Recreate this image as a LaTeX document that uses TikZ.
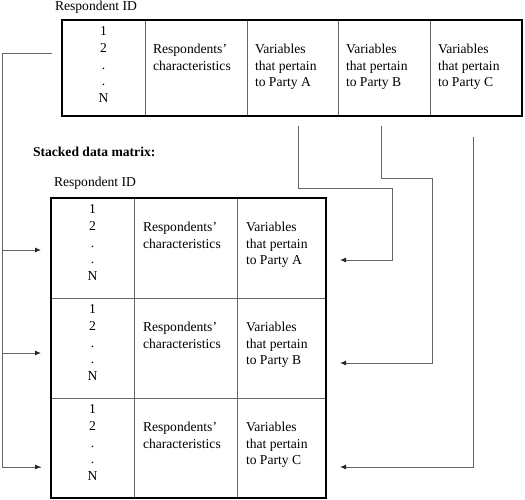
\documentclass[tikz,border=0pt]{standalone}
\usepackage{fontspec}
\setmainfont{Liberation Serif}
\usepackage{tikz}
\usetikzlibrary{positioning,arrows.meta,fit,calc}

\begin{document}
\begin{tikzpicture}[
    x=1pt,y=-1pt,
    every node/.style={font=\fontsize{13.6}{16.6}\selectfont,inner sep=0pt,outer sep=0pt},
    node distance=0pt,
    cell/.style={draw=black!60,line width=0.8pt,rectangle,anchor=north west},
    frame/.style={draw=black,line width=1.6pt,rectangle},
    ids/.style={align=center,anchor=north},
    txt/.style={align=left},
    conn/.style={draw=black!60,line width=0.9pt},
    arr/.style={conn,-{Latex[length=6pt,width=5pt,color=black!85]}}
  ]
  \useasboundingbox (0,0) rectangle (525,499);
  % wide data matrix
  \node[anchor=north west] (idlab0) at (55,1) {Respondent ID};
  \node[cell,minimum width=83pt,minimum height=96pt] (id0) at (62,20) {};
  \node[cell,minimum width=102pt,minimum height=96pt,right=of id0] (rc0) {};
  \node[cell,minimum width=91pt,minimum height=96pt,right=of rc0] (pa0) {};
  \node[cell,minimum width=92pt,minimum height=96pt,right=of pa0] (pb0) {};
  \node[cell,minimum width=92pt,minimum height=96pt,right=of pb0] (pc0) {};
  \node[frame,fit=(id0)(pc0)] (wide) {};
  \node[ids] (id0t) at ([yshift=-7pt]id0.north) {1\\2\\.\\.\\N};
  \node[txt,below right=24pt and 8pt of rc0.north west] (rc0t) {Respondents’\\characteristics};
  \node[txt,below right=24pt and 8pt of pa0.north west] (pa0t) {Variables\\that pertain\\to Party A};
  \node[txt,below right=24pt and 8pt of pb0.north west] (pb0t) {Variables\\that pertain\\to Party B};
  \node[txt,below right=24pt and 8pt of pc0.north west] (pc0t) {Variables\\that pertain\\to Party C};
  % stacked data matrix
  \node[anchor=north west,font=\fontsize{13.6}{16.6}\selectfont\bfseries] (stlab) at (33,147) {Stacked data matrix:};
  \node[anchor=north west] (idlab1) at (54,177) {Respondent ID};
  \node[cell,minimum width=83pt,minimum height=100pt] (s1id) at (51,198) {};
  \node[cell,minimum width=103pt,minimum height=100pt,right=of s1id] (s1rc) {};
  \node[cell,minimum width=89pt,minimum height=100pt,right=of s1rc] (s1pa) {};
  \node[cell,minimum width=83pt,minimum height=100pt,below=of s1id] (s2id) {};
  \node[cell,minimum width=103pt,minimum height=100pt,right=of s2id] (s2rc) {};
  \node[cell,minimum width=89pt,minimum height=100pt,right=of s2rc] (s2pb) {};
  \node[cell,minimum width=83pt,minimum height=100pt,below=of s2id] (s3id) {};
  \node[cell,minimum width=103pt,minimum height=100pt,right=of s3id] (s3rc) {};
  \node[cell,minimum width=89pt,minimum height=100pt,right=of s3rc] (s3pc) {};
  \node[frame,fit=(s1id)(s3pc)] (stacked) {};
  \node[ids] (s1idt) at ([yshift=-7pt]s1id.north) {1\\2\\.\\.\\N};
  \node[ids] (s2idt) at ([yshift=-7pt]s2id.north) {1\\2\\.\\.\\N};
  \node[ids] (s3idt) at ([yshift=-7pt]s3id.north) {1\\2\\.\\.\\N};
  \node[txt,below right=24pt and 9pt of s1rc.north west] (s1rct) {Respondents’\\characteristics};
  \node[txt,below right=24pt and 9pt of s2rc.north west] (s2rct) {Respondents’\\characteristics};
  \node[txt,below right=24pt and 9pt of s3rc.north west] (s3rct) {Respondents’\\characteristics};
  \node[txt,below right=24pt and 9pt of s1pa.north west] (s1pat) {Variables\\that pertain\\to Party A};
  \node[txt,below right=24pt and 9pt of s2pb.north west] (s2pbt) {Variables\\that pertain\\to Party B};
  \node[txt,below right=24pt and 9pt of s3pc.north west] (s3pct) {Variables\\that pertain\\to Party C};
  % connectors
  \coordinate (idout) at (52,53);
  \coordinate (in1) at (41,250);
  \coordinate (in2) at (41,353);
  \coordinate (in3) at (41,467);
  \draw[conn] (idout) -- (2,53) |- (in3);
  \draw[arr] (2,250) -- (in1);
  \draw[arr] (2,353) -- (in2);
  \draw[arr] (2,467) -- (in3);
  \coordinate (aout) at (298,126);
  \coordinate (bout) at (381,126);
  \coordinate (cout) at (473,137);
  \coordinate (ain) at (340,260);
  \coordinate (bin) at (340,363);
  \coordinate (cin) at (340,467);
  \draw[arr] (aout) |- (392,188) |- (ain);
  \draw[arr] (bout) |- (432,178) |- (bin);
  \draw[arr] (cout) |- (cin);
\end{tikzpicture}
\end{document}
